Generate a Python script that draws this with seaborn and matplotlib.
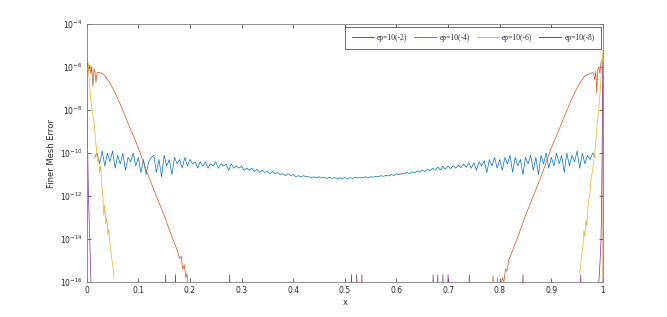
import numpy as np
import pandas as pd
import seaborn as sns
import matplotlib.pyplot as plt
from matplotlib.lines import Line2D
from matplotlib.ticker import NullLocator

sns.set_style('ticks')
plt.rcParams['font.family'] = ['DejaVu Sans']

series_names = ['ep=10(-2)', 'ep=10(-4)', 'ep=10(-6)', 'ep=10(-8)']
colors = ['#0072BD', '#D95319', '#EDB120', '#7E2F8E']

# ep=10(-2): log10 of the error on a grid 0.015 .. 0.985 (step 0.005)
blue_x = np.round(np.arange(3, 198) * 0.005, 3)
blue_log = [
    -10.2, -10.0, -10.5, -9.9, -10.6, -10.0, -10.4, -9.9, -10.7, -10.1,
    -10.5, -10.0, -10.8, -10.2, -10.4, -10.0, -10.6, -10.2, -10.9, -10.3,
    -11.0, -10.4, -10.2, -10.1, -10.9, -10.3, -11.1, -10.1, -10.6, -10.3,
    -11.0, -10.2, -10.5, -10.3, -10.7, -10.2, -10.6, -10.3, -10.5, -10.4,
    -10.7, -10.4, -10.6, -10.4, -10.7, -10.5, -10.6, -10.4, -10.7, -10.5,
    -10.6, -10.5, -10.8, -10.5, -10.7, -10.6, -10.7, -10.6, -10.8, -10.7,
    -10.8, -10.7, -10.85, -10.75, -10.9, -10.8, -10.9, -10.85, -10.95, -10.85,
    -10.95, -10.9, -11.0, -10.95, -11.05, -10.95, -11.05, -11.0, -11.1, -11.05,
    -11.1, -11.05, -11.1, -11.1, -11.15, -11.1, -11.15, -11.1, -11.15, -11.12,
    -11.18, -11.12, -11.17, -11.14, -11.2, -11.15, -11.18, -11.14, -11.18, -11.15,
    -11.17, -11.13, -11.16, -11.12, -11.15, -11.1, -11.14, -11.1, -11.12, -11.08,
    -11.1, -11.05, -11.08, -11.03, -11.06, -11.0, -11.04, -10.97, -11.0, -10.95,
    -10.97, -10.9, -10.95, -10.87, -10.92, -10.83, -10.88, -10.8, -10.86, -10.75,
    -10.82, -10.7, -10.8, -10.65, -10.78, -10.62, -10.75, -10.6, -10.72, -10.58,
    -10.7, -10.55, -10.68, -10.5, -10.66, -10.45, -10.7, -10.45, -10.8, -10.4,
    -10.6, -10.35, -10.9, -10.3, -10.6, -10.2, -10.7, -10.3, -10.8, -10.2,
    -10.5, -10.1, -10.9, -10.2, -10.6, -10.3, -11.0, -10.2, -10.5, -10.1,
    -10.8, -10.2, -11.0, -10.1, -10.5, -10.0, -10.7, -10.2, -10.6, -10.0,
    -10.5, -10.1, -10.9, -10.0, -10.6, -10.1, -10.4, -9.9, -10.7, -10.0,
    -10.5, -10.1, -10.3, -10.0, -10.2,
]

# ep=10(-4)
orange_left_x = [0, 0.002, 0.004, 0.006, 0.008, 0.010, 0.012, 0.014, 0.016, 0.018,
                 0.020, 0.025, 0.030, 0.035, 0.045, 0.055, 0.064, 0.074, 0.084, 0.094,
                 0.103, 0.117, 0.130, 0.150, 0.165, 0.175, 0.180, 0.183, 0.186, 0.189,
                 0.192, 0.194, 0.196, 0.200]
orange_left_log = [-6.0, -5.8, -6.2, -5.9, -6.3, -6.0, -6.9, -6.1, -6.2, -6.7,
                   -6.25, -6.25, -6.3, -6.4, -6.74, -7.2, -7.67, -8.25, -8.84, -9.4,
                   -9.95, -10.9, -11.7, -12.9, -13.9, -14.5, -14.9, -14.8, -15.4, -15.2,
                   -15.8, -15.6, -16.2, -17.0]
orange_right_x = [0.785, 0.787, 0.789, 0.794, 0.796, 0.798, 0.802, 0.805, 0.808, 0.811,
                  0.814, 0.817, 0.822, 0.835, 0.850, 0.870, 0.883, 0.897, 0.906, 0.916,
                  0.926, 0.936, 0.945, 0.955, 0.965, 0.975, 0.980, 0.982, 0.984, 0.986,
                  0.988, 0.990, 0.992, 0.994, 0.996, 0.998, 1.0, 1.0]
orange_right_log = [-17.0, -15.7, -17.0, -17.0, -15.8, -17.0, -16.2, -15.8, -16.0, -15.4,
                    -15.5, -15.0, -14.7, -13.9, -12.9, -11.7, -10.9, -9.95, -9.4, -8.84,
                    -8.25, -7.67, -7.2, -6.74, -6.4, -6.3, -6.25, -6.3, -6.6, -6.2,
                    -7.2, -6.1, -6.0, -6.3, -5.8, -5.7, -5.7, -17.0]

# ep=10(-6)
yellow_left_x = [0, 0.002, 0.005, 0.008, 0.011, 0.014, 0.017, 0.019, 0.021, 0.023,
                 0.025, 0.027, 0.029, 0.031, 0.033, 0.035, 0.037, 0.039, 0.041, 0.043,
                 0.045, 0.047, 0.049, 0.051, 0.053]
yellow_left_log = [-5.4, -5.7, -6.6, -7.6, -8.1, -8.5, -9.3, -9.9, -10.4, -10.2,
                   -10.9, -10.6, -11.5, -11.9, -12.9, -12.4, -13.3, -13.0, -13.8, -13.5,
                   -14.2, -14.6, -15.0, -15.3, -15.8]
yellow_right_x = [0.955, 0.957, 0.959, 0.961, 0.963, 0.965, 0.967, 0.969, 0.971, 0.973,
                  0.975, 0.977, 0.979, 0.981, 0.983, 0.985, 0.987, 0.989, 0.991, 0.993,
                  0.995, 0.997, 0.999, 1.0]
yellow_right_log = [-15.6, -15.2, -14.7, -14.4, -13.6, -13.9, -13.1, -13.4, -12.5, -12.1,
                    -11.8, -11.2, -10.9, -10.6, -10.1, -9.8, -9.2, -8.6, -8.2, -7.6,
                    -7.0, -6.2, -5.6, -5.2]

# ep=10(-8)
purple_left_x = [0, 0.001, 0.002, 0.003, 0.004, 0.005, 0.006, 0.007, 0.008, 0.009]
purple_left_log = [-6.0, -8.0, -10.0, -11.5, -12.5, -13.3, -14.0, -15.0, -15.8, -17.0]
purple_spike_x = [0.153, 0.172, 0.277, 0.513, 0.523, 0.533, 0.671, 0.680, 0.690,
                  0.700, 0.741, 0.845, 0.957]
purple_spike_log = -15.65
purple_floor_log = -17.0
purple_right_x = [0.990, 0.992, 0.994, 0.996, 0.997, 0.998, 0.999, 1.0]
purple_right_log = [-17.0, -16.0, -15.2, -14.2, -13.0, -11.0, -8.0, -5.8]

xtick_vals = [0, 0.1, 0.2, 0.3, 0.4, 0.5, 0.6, 0.7, 0.8, 0.9, 1]
xtick_labels = ['0', '0.1', '0.2', '0.3', '0.4', '0.5', '0.6', '0.7', '0.8', '0.9', '1']
ytick_vals = [1e-16, 1e-14, 1e-12, 1e-10, 1e-8, 1e-6, 1e-4]

# purple middle: spikes above the floor
purple_mid_x, purple_mid_log = [], []
for s in purple_spike_x:
    purple_mid_x += [s - 0.0015, s, s + 0.0015]
    purple_mid_log += [purple_floor_log, purple_spike_log, purple_floor_log]

pieces = [
    (series_names[0], 0, blue_x, blue_log),
    (series_names[1], 0, orange_left_x, orange_left_log),
    (series_names[1], 1, orange_right_x, orange_right_log),
    (series_names[2], 0, yellow_left_x, yellow_left_log),
    (series_names[2], 1, yellow_right_x, yellow_right_log),
    (series_names[3], 0, purple_left_x + purple_mid_x + purple_right_x,
     purple_left_log + purple_mid_log + purple_right_log),
]
frames = []
for name, seg, xs, ls in pieces:
    frames.append(pd.DataFrame({'x': xs, 'err': 10.0 ** np.array(ls),
                                'series': name, 'seg': seg}))
df = pd.concat(frames, ignore_index=True)

fig = plt.figure(figsize=(6.67, 3.17), dpi=100)
ax = fig.add_axes([0.130, 0.110, 0.774, 0.814])

sns.lineplot(data=df, x='x', y='err', hue='series', units='seg', estimator=None,
             sort=False, hue_order=series_names, palette=colors, linewidth=0.5,
             legend=False, ax=ax)

ax.set_yscale('log')
ax.set_xlim(0, 1)
ax.set_ylim(1e-16, 1e-4)
ax.set_xticks(xtick_vals)
ax.set_xticklabels(xtick_labels)
ax.set_yticks(ytick_vals)
ax.yaxis.set_minor_locator(NullLocator())
ax.tick_params(direction='in', top=True, right=True, length=3, width=0.5,
               labelsize=5.5, colors='#262626', pad=3)
for sp in ax.spines.values():
    sp.set_visible(True)
    sp.set_linewidth(0.6)
    sp.set_color('#7f7f7f')
ax.set_xlabel('x', fontsize=6, color='#262626', labelpad=2)
ax.set_ylabel('Finer Mesh Error', fontsize=6, color='#262626', labelpad=3)

handles = [Line2D([], [], color=c, linewidth=0.7) for c in colors]
leg = ax.legend(handles, series_names, loc='upper right', bbox_to_anchor=(1.0, 0.995),
                ncol=4, frameon=True, fancybox=False, edgecolor='#262626',
                prop={'family': 'Liberation Serif', 'size': 5.5}, borderaxespad=0.2,
                handlelength=2.9, columnspacing=0.9, borderpad=0.9, handletextpad=0.4)
leg.get_frame().set_linewidth(0.6)

plt.savefig('out.png', dpi=100)
